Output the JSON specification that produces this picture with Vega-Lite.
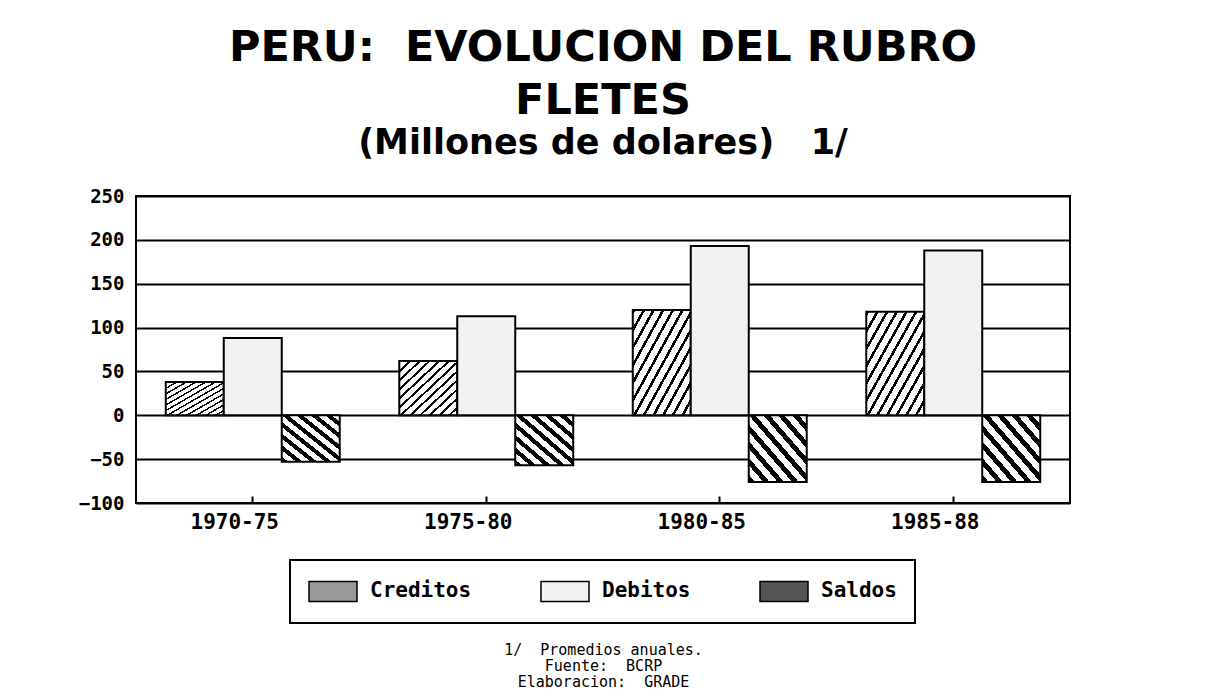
{
  "$schema": "https://vega.github.io/schema/vega-lite/v6.json",
  "width": 934,
  "height": 307,
  "autosize": {"type": "none"},
  "padding": {"left": 136, "top": 196, "right": 157, "bottom": 195},
  "background": "white",
  "params": [
    {"name": "gradA", "value": {"gradient": "linear", "x1": 0, "y1": 0, "x2": 1, "y2": 1, "stops": [
      {"offset": 0, "color": "#000"}, {"offset": 0.025, "color": "#000"}, {"offset": 0.025, "color": "#fff"}, {"offset": 0.0833, "color": "#fff"},
      {"offset": 0.0833, "color": "#000"}, {"offset": 0.1083, "color": "#000"}, {"offset": 0.1083, "color": "#fff"}, {"offset": 0.1667, "color": "#fff"},
      {"offset": 0.1667, "color": "#000"}, {"offset": 0.1917, "color": "#000"}, {"offset": 0.1917, "color": "#fff"}, {"offset": 0.25, "color": "#fff"},
      {"offset": 0.25, "color": "#000"}, {"offset": 0.275, "color": "#000"}, {"offset": 0.275, "color": "#fff"}, {"offset": 0.3333, "color": "#fff"},
      {"offset": 0.3333, "color": "#000"}, {"offset": 0.3583, "color": "#000"}, {"offset": 0.3583, "color": "#fff"}, {"offset": 0.4167, "color": "#fff"},
      {"offset": 0.4167, "color": "#000"}, {"offset": 0.4417, "color": "#000"}, {"offset": 0.4417, "color": "#fff"}, {"offset": 0.5, "color": "#fff"},
      {"offset": 0.5, "color": "#000"}, {"offset": 0.525, "color": "#000"}, {"offset": 0.525, "color": "#fff"}, {"offset": 0.5833, "color": "#fff"},
      {"offset": 0.5833, "color": "#000"}, {"offset": 0.6083, "color": "#000"}, {"offset": 0.6083, "color": "#fff"}, {"offset": 0.6667, "color": "#fff"},
      {"offset": 0.6667, "color": "#000"}, {"offset": 0.6917, "color": "#000"}, {"offset": 0.6917, "color": "#fff"}, {"offset": 0.75, "color": "#fff"},
      {"offset": 0.75, "color": "#000"}, {"offset": 0.775, "color": "#000"}, {"offset": 0.775, "color": "#fff"}, {"offset": 0.8333, "color": "#fff"},
      {"offset": 0.8333, "color": "#000"}, {"offset": 0.8583, "color": "#000"}, {"offset": 0.8583, "color": "#fff"}, {"offset": 0.9167, "color": "#fff"},
      {"offset": 0.9167, "color": "#000"}, {"offset": 0.9417, "color": "#000"}, {"offset": 0.9417, "color": "#fff"}, {"offset": 1, "color": "#fff"}
    ]}},
    {"name": "gradS", "value": {"gradient": "linear", "x1": 0, "y1": 1, "x2": 1, "y2": 0, "stops": [
      {"offset": 0, "color": "#000"}, {"offset": 0.056, "color": "#000"}, {"offset": 0.056, "color": "#fff"}, {"offset": 0.125, "color": "#fff"},
      {"offset": 0.125, "color": "#000"}, {"offset": 0.181, "color": "#000"}, {"offset": 0.181, "color": "#fff"}, {"offset": 0.25, "color": "#fff"},
      {"offset": 0.25, "color": "#000"}, {"offset": 0.306, "color": "#000"}, {"offset": 0.306, "color": "#fff"}, {"offset": 0.375, "color": "#fff"},
      {"offset": 0.375, "color": "#000"}, {"offset": 0.431, "color": "#000"}, {"offset": 0.431, "color": "#fff"}, {"offset": 0.5, "color": "#fff"},
      {"offset": 0.5, "color": "#000"}, {"offset": 0.556, "color": "#000"}, {"offset": 0.556, "color": "#fff"}, {"offset": 0.625, "color": "#fff"},
      {"offset": 0.625, "color": "#000"}, {"offset": 0.681, "color": "#000"}, {"offset": 0.681, "color": "#fff"}, {"offset": 0.75, "color": "#fff"},
      {"offset": 0.75, "color": "#000"}, {"offset": 0.806, "color": "#000"}, {"offset": 0.806, "color": "#fff"}, {"offset": 0.875, "color": "#fff"},
      {"offset": 0.875, "color": "#000"}, {"offset": 0.931, "color": "#000"}, {"offset": 0.931, "color": "#fff"}, {"offset": 1, "color": "#fff"}
    ]}}
  ],
  "title": {
    "text": ["PERU:\u00a0\u00a0EVOLUCION DEL RUBRO", "FLETES"],
    "subtitle": "(Millones de dolares)\u00a0\u00a0 1/",
    "font": "DejaVu Sans",
    "fontSize": 43,
    "fontWeight": "bold",
    "lineHeight": 53,
    "color": "black",
    "subtitleFont": "DejaVu Sans",
    "subtitleFontSize": 35,
    "subtitleFontWeight": "bold",
    "subtitleColor": "black",
    "subtitlePadding": 3,
    "anchor": "middle",
    "offset": 26
  },
  "data": {
    "values": [
      {"periodo": "1970-75", "serie": "Creditos", "valor": 38},
      {"periodo": "1970-75", "serie": "Debitos", "valor": 88},
      {"periodo": "1970-75", "serie": "Saldos", "valor": -53},
      {"periodo": "1975-80", "serie": "Creditos", "valor": 62},
      {"periodo": "1975-80", "serie": "Debitos", "valor": 113},
      {"periodo": "1975-80", "serie": "Saldos", "valor": -57},
      {"periodo": "1980-85", "serie": "Creditos", "valor": 120},
      {"periodo": "1980-85", "serie": "Debitos", "valor": 193},
      {"periodo": "1980-85", "serie": "Saldos", "valor": -76},
      {"periodo": "1985-88", "serie": "Creditos", "valor": 118},
      {"periodo": "1985-88", "serie": "Debitos", "valor": 188},
      {"periodo": "1985-88", "serie": "Saldos", "valor": -76}
    ]
  },
  "mark": {"type": "bar", "stroke": "black", "strokeWidth": 2, "opacity": 1},
  "encoding": {
    "x": {
      "field": "periodo",
      "type": "nominal",
      "sort": ["1970-75", "1975-80", "1980-85", "1985-88"],
      "scale": {"paddingInner": 0.255, "paddingOuter": 0.1275},
      "axis": {
        "title": ["1/\u00a0\u00a0Promedios anuales.", "Fuente:\u00a0\u00a0BCRP", "Elaboracion:\u00a0\u00a0GRADE"],
        "titleFont": "DejaVu Sans Mono",
        "titleFontSize": 15,
        "titleFontWeight": "normal",
        "titleLineHeight": 16,
        "titleColor": "black",
        "titlePadding": 110,
        "labelAngle": 0,
        "labelFont": "DejaVu Sans Mono",
        "labelFontSize": 21,
        "labelFontWeight": "bold",
        "labelColor": "black",
        "labelPadding": 15,
        "labelOffset": -18,
        "domain": false,
        "ticks": true,
        "tickSize": -7,
        "tickColor": "black",
        "tickWidth": 2,
        "grid": false
      }
    },
    "xOffset": {
      "field": "serie",
      "type": "nominal",
      "sort": ["Creditos", "Debitos", "Saldos"],
      "scale": {"paddingInner": 0, "paddingOuter": 0}
    },
    "y": {
      "field": "valor",
      "type": "quantitative",
      "scale": {"domain": [-100, 250], "nice": false, "zero": false},
      "axis": {
        "title": null,
        "values": [-100, -50, 0, 50, 100, 150, 200, 250],
        "labelFont": "DejaVu Sans Mono",
        "labelFontSize": 19,
        "labelFontWeight": "bold",
        "labelColor": "black",
        "labelPadding": 12,
        "domain": false,
        "ticks": false,
        "grid": true,
        "gridColor": "black",
        "gridWidth": 2,
        "gridOpacity": 1
      }
    },
    "fill": {
      "field": "serie",
      "type": "nominal",
      "scale": {
        "domain": ["Creditos", "Debitos", "Saldos"],
        "range": ["#999999", "#f2f2f2", "#555555"]
      },
      "condition": [
        {"test": "datum.serie === 'Creditos'", "value": {"expr": "gradA"}},
        {"test": "datum.serie === 'Saldos'", "value": {"expr": "gradS"}}
      ],
      "legend": {
        "title": null,
        "orient": "none",
        "legendX": 154,
        "legendY": 364,
        "direction": "horizontal",
        "strokeColor": "black",
        "padding": 18,
        "columnPadding": 66,
        "symbolType": "M-1,-0.84H3V0.84H-1Z",
        "symbolSize": 576,
        "symbolStrokeColor": "black",
        "symbolStrokeWidth": 1.5,
        "symbolOpacity": 1,
        "labelFont": "DejaVu Sans Mono",
        "labelFontSize": 21,
        "labelFontWeight": "bold",
        "labelColor": "black",
        "labelOffset": 36,
        "labelLimit": 300,
        "encode": {
          "symbols": {
            "update": {
              "stroke": {"value": "black"},
              "strokeWidth": {"value": 1.5}
            }
          }
        }
      }
    }
  },
  "config": {
    "view": {"stroke": "black", "strokeWidth": 2},
    "legend": {"strokeWidth": 2}
  }
}
